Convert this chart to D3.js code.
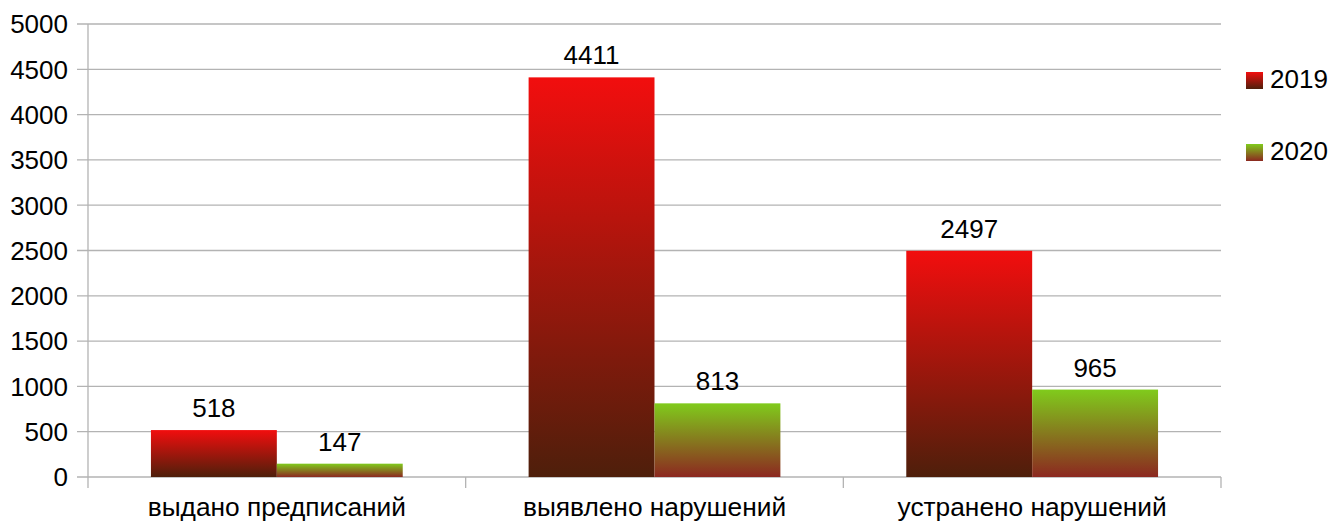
<!DOCTYPE html>
<html><head><meta charset="utf-8">
<script src="https://cdn.jsdelivr.net/npm/d3@7"></script>
<style>body{margin:0;background:#fff}svg{display:block}text{font-family:"Liberation Sans",Arial,sans-serif;fill:#000}</style>
</head><body>
<script>
const categories = ["выдано предписаний", "выявлено нарушений", "устранено нарушений"];
const series = ["2019", "2020"];
const values2019 = [518, 4411, 2497];
const values2020 = [147, 813, 965];
const yTicks = [0, 500, 1000, 1500, 2000, 2500, 3000, 3500, 4000, 4500, 5000];

(function () {
const W = 1331, H = 525, FS = 26;
const mLeft = 88, mRight = 1221, mTop = 24, mBottom = 477;
const svg = d3.select("body").append("svg").attr("width", W).attr("height", H);
const defs = svg.append("defs");
function grad(id, c1, c2) {
  const g = defs.append("linearGradient").attr("id", id).attr("x1", 0).attr("y1", 0).attr("x2", 0).attr("y2", 1);
  g.append("stop").attr("offset", 0).attr("stop-color", c1);
  g.append("stop").attr("offset", 1).attr("stop-color", c2);
}
grad("g2019", "#f20e0e", "#4e1f0b");
grad("g2020", "#80cb1c", "#8c2820");

const x = d3.scaleBand().domain(categories).range([mLeft, mRight]).paddingInner(0).paddingOuter(0);
const x1 = d3.scaleBand().domain(series).range([0, x.bandwidth()]).paddingInner(0).paddingOuter(0.5);
const y = d3.scaleLinear().domain([0, 5000]).range([mBottom, mTop]);

svg.append("g").selectAll("line").data(yTicks).join("line")
  .attr("x1", mLeft - 11).attr("x2", mRight).attr("y1", d => y(d)).attr("y2", d => y(d))
  .attr("stroke", "#b3b3b3").attr("stroke-width", 1.3);
svg.append("line").attr("x1", mLeft).attr("x2", mLeft).attr("y1", mTop).attr("y2", mBottom + 11)
  .attr("stroke", "#b3b3b3").attr("stroke-width", 1.3);
const bounds = categories.map(c => x(c)).concat([mRight]);
svg.append("g").selectAll("line").data(bounds.slice(1)).join("line")
  .attr("x1", d => d).attr("x2", d => d).attr("y1", mBottom).attr("y2", mBottom + 11)
  .attr("stroke", "#b3b3b3").attr("stroke-width", 1.3);

svg.append("g").selectAll("text").data(yTicks).join("text")
  .attr("x", 68).attr("y", d => y(d)).attr("dy", "0.36em").attr("text-anchor", "end")
  .attr("font-size", FS).text(d => d);

const data = [];
categories.forEach((c, i) => {
  data.push({c, s: "2019", v: values2019[i]});
  data.push({c, s: "2020", v: values2020[i]});
});
svg.append("g").selectAll("rect").data(data).join("rect")
  .attr("x", d => x(d.c) + x1(d.s)).attr("width", x1.bandwidth())
  .attr("y", d => y(d.v)).attr("height", d => y(0) - y(d.v))
  .attr("fill", d => `url(#g${d.s})`);
svg.append("g").selectAll("text").data(data).join("text")
  .attr("x", d => x(d.c) + x1(d.s) + x1.bandwidth() / 2).attr("y", d => y(d.v) - 13)
  .attr("text-anchor", "middle").attr("font-size", FS).text(d => d.v);

svg.append("g").selectAll("text").data(categories).join("text")
  .attr("x", d => x(d) + x.bandwidth() / 2).attr("y", 516)
  .attr("text-anchor", "middle").attr("font-size", 26.3).text(d => d);

const lg = svg.append("g").selectAll("g").data(series).join("g")
  .attr("transform", (d, i) => `translate(1246,${72 + i * 72})`);
lg.append("rect").attr("width", 17).attr("height", 17).attr("fill", d => `url(#g${d})`);
lg.append("text").attr("x", 24).attr("y", 16).attr("font-size", FS).text(d => d);
})();
</script>
</body></html>
